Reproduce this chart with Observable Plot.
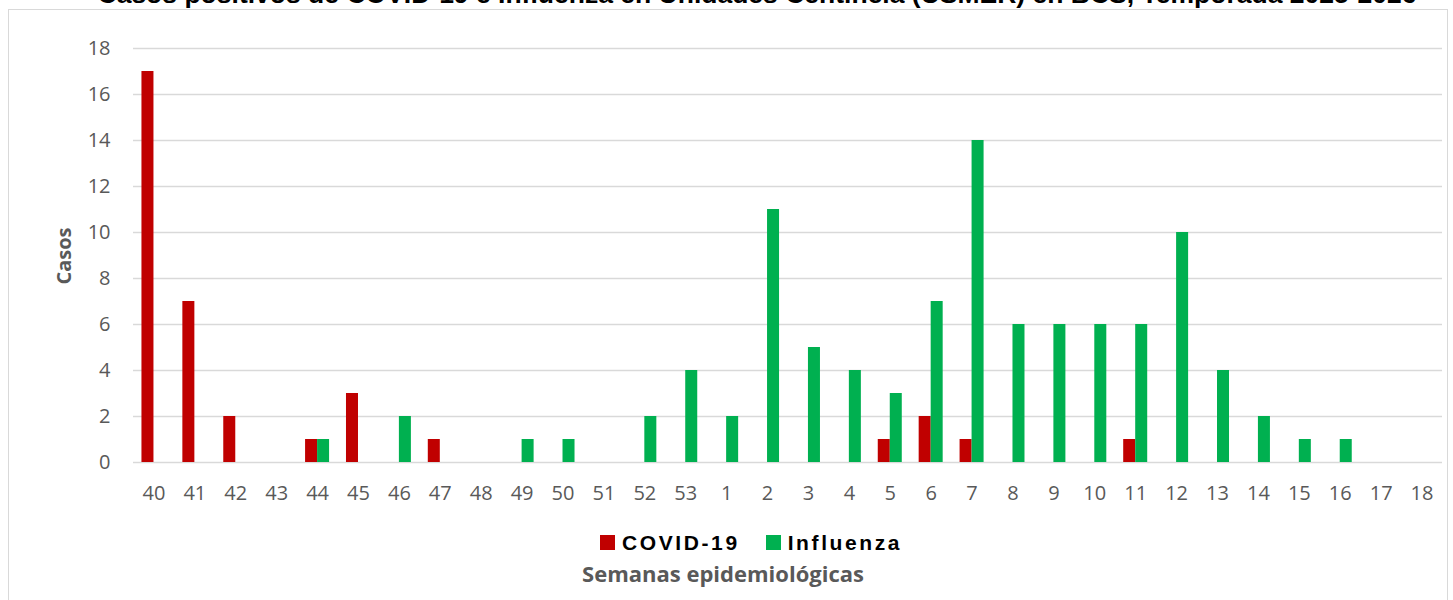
<!DOCTYPE html>
<html><head><meta charset="utf-8">
<script src="https://cdn.jsdelivr.net/npm/d3@7"></script>
<script src="https://cdn.jsdelivr.net/npm/@observablehq/plot@0.6"></script>
<style>
body{margin:0;background:#fff;overflow:hidden;width:1453px;height:600px;position:relative;}
#frame{position:absolute;left:8px;top:9px;width:1440px;height:620px;border:1px solid #d9d9d9;box-sizing:border-box;}
#title{position:absolute;left:0;width:1514px;top:-21px;line-height:1;text-align:center;font:bold 26.5px "Liberation Sans",Arial,sans-serif;color:#000;white-space:nowrap;}
#chart{position:absolute;left:0;top:0;}
#ylabel{position:absolute;left:63px;top:256px;transform:translate(-50%,-50%) rotate(-90deg);font:bold 20px "Open Sans",sans-serif;color:#595959;white-space:nowrap;}
#legend{position:absolute;top:531px;left:600px;display:flex;align-items:center;height:23px;font:bold 21px "Liberation Sans",Arial,sans-serif;letter-spacing:2.6px;color:#000;}
#legend .sw{width:15px;height:15px;display:inline-block;margin-right:7px;}
#legend .item{display:flex;align-items:center;margin-right:26px;}
#xlabel{position:absolute;left:0;width:1446px;top:559px;text-align:center;font:bold 22px "Open Sans",sans-serif;color:#595959;line-height:28px;}
</style></head>
<body>
<div id="frame"></div>
<div id="title">Casos positivos de COVID-19 e Influenza en Unidades Centinela (USMER) en BCS, Temporada 2025-2026</div>
<div id="chart"></div>
<div id="ylabel">Casos</div>
<div id="legend"></div>
<div id="xlabel">Semanas epidemiológicas</div>
<script>
const weeks = ["40","41","42","43","44","45","46","47","48","49","50","51","52","53","1","2","3","4","5","6","7","8","9","10","11","12","13","14","15","16","17","18"];
const covid =     [17,7,2,0,1,3,0,1,0,0,0,0,0,0, 0,0,0,0,1,2,1,0,0,0,1,0,0,0,0,0,0,0];
const influenza = [0,0,0,0,1,0,2,0,0,1,1,0,2,4, 2,11,5,4,3,7,14,6,6,6,6,10,4,2,1,1,0,0];
const series = ["COVID-19","Influenza"];
const colors = ["#C00000","#00B050"];
const yTicks = [0,2,4,6,8,10,12,14,16,18];

const covidData = weeks.map((w,i)=>({week:w, serie:series[0], casos:covid[i]}));
const fluData = weeks.map((w,i)=>({week:w, serie:series[1], casos:influenza[i]}));

const chart = Plot.plot({
  width:1453, height:520,
  marginLeft:133, marginRight:11, marginTop:48, marginBottom:58,
  x:{domain:weeks, padding:0, round:false, label:null, tickSize:0, tickPadding:23},
  y:{domain:[0,18], ticks:yTicks, tickSize:0, tickPadding:23, label:null},
  color:{domain:series, range:colors},
  style:{fontFamily:"'Open Sans',sans-serif", fontSize:"20px", color:"#595959", background:"transparent", overflow:"visible"},
  marks:[
    Plot.ruleY(yTicks, {stroke:"#d9d9d9", strokeWidth:1.5}),
    Plot.barY(covidData, {x:"week", y:"casos", fill:"serie", insetLeft:14.45, insetRight:14.45, dx:-6}),
    Plot.barY(fluData, {x:"week", y:"casos", fill:"serie", insetLeft:14.45, insetRight:14.45, dx:6})
  ]
});
document.getElementById("chart").appendChild(chart);

const leg = document.getElementById("legend");
series.forEach((s,i)=>{
  const it = document.createElement("div"); it.className="item";
  const sw = document.createElement("span"); sw.className="sw"; sw.style.background=colors[i];
  it.appendChild(sw); it.appendChild(document.createTextNode(s));
  leg.appendChild(it);
});
</script>
</body></html>
